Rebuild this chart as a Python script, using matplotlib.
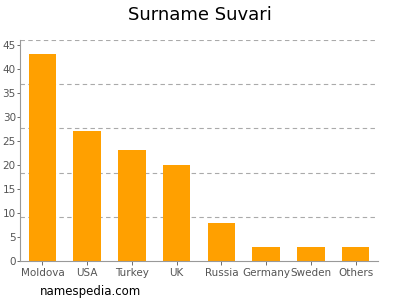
import matplotlib
matplotlib.use("Agg")
import matplotlib.pyplot as plt
import numpy as np

categories = ["Moldova", "USA", "Turkey", "UK", "Russia", "Germany", "Sweden", "Others"]
values = [43, 27, 23, 20, 8, 3, 3, 3]
yticks = [0, 5, 10, 15, 20, 25, 30, 35, 40, 45]

fig = plt.figure(figsize=(4, 3), dpi=100)
ax = fig.add_axes([0.05, 0.13, 0.895, 0.737])
x = np.arange(len(categories))
ax.bar(x, values, width=0.62, color="#FFA000", zorder=2)
ymax = 46
ax.set_ylim(0, ymax)
ax.set_xlim(-0.5, len(categories) - 0.5)
for g in np.linspace(0, ymax, 6)[1:]:
    ax.axhline(g, color="#aaaaaa", linestyle=(0, (4, 3)), linewidth=0.8, zorder=1)
ax.set_yticks(yticks)
ax.set_xticks(x)
ax.set_xticklabels(categories)
ax.tick_params(axis="both", labelsize=7.5, colors="#555555", length=2, width=0.6, pad=1)
ax.tick_params(axis="x", length=3, pad=2)
for s in ["top", "right"]:
    ax.spines[s].set_visible(False)
for s in ["left", "bottom"]:
    ax.spines[s].set_color("#999999")
    ax.spines[s].set_linewidth(0.8)
fig.text(0.5, 0.95, "Surname Suvari", ha="center", va="center", fontsize=13, color="#000000")
fig.text(0.1, 0.027, "namespedia.com", ha="left", va="center", fontsize=8.5, color="#000000")
fig.savefig("out.png", dpi=100)
